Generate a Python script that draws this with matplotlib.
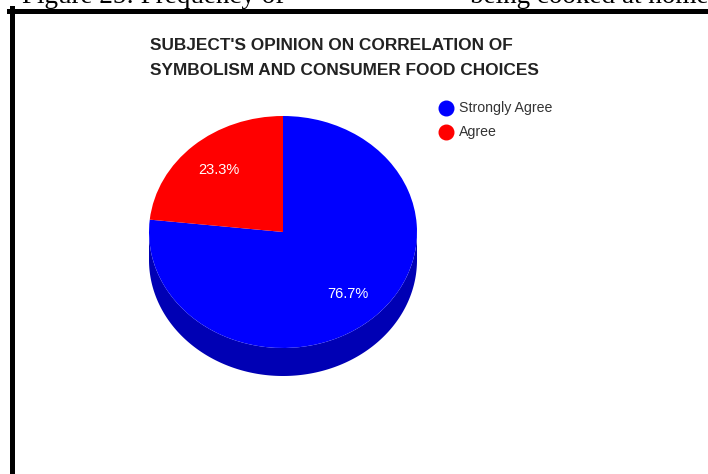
import numpy as np
import matplotlib.pyplot as plt
from matplotlib.lines import Line2D

# data
labels = ['Strongly Agree', 'Agree']
values = [76.7, 23.3]
colors = ['#0000ff', '#ff0000']
side_color = '#0000b4'

W, H = 708, 474
fig = plt.figure(figsize=(W / 100, H / 100), dpi=100)
fig.patch.set_facecolor('white')

def fx(px):
    return px / W

def fy(py):
    return 1 - py / H

# document frame + cut-off caption above it
fig.add_artist(Line2D([fx(11.5), fx(11.5)], [fy(8), fy(H)], color='black', lw=3.6, transform=fig.transFigure))
fig.add_artist(Line2D([fx(9), fx(W)], [fy(10.5), fy(10.5)], color='black', lw=3.6, transform=fig.transFigure))
fig.text(fx(22), fy(3), 'Figure 25: Frequency of', family='Liberation Serif', fontsize=19.5, va='baseline')
fig.text(fx(470), fy(3), 'being cooked at home', family='Liberation Serif', fontsize=19.5, va='baseline')

# title
fig.text(fx(150), fy(58), "SUBJECT'S OPINION ON CORRELATION OF\nSYMBOLISM AND CONSUMER FOOD CHOICES",
         family='Liberation Sans', fontsize=12.4, fontweight='bold', color='#222222',
         va='center', ha='left', linespacing=1.8)

# pie geometry (pixels): top ellipse spans x 149-417, y 116-348, side depth 28
left, right, top, bottom = 149, 417, 116, 348
depth_px = 28
ry_px = (bottom - top) / 2
depth = depth_px / ry_px

ax = fig.add_axes([fx(left), fy(bottom + depth_px), (right - left) / W, (bottom + depth_px - top) / H])
ax.axis('off')

# extruded side (lower half of the ellipse)
t = np.linspace(np.pi, 2 * np.pi, 200)
xs = np.concatenate([np.cos(t), np.cos(t[::-1])])
ys = np.concatenate([np.sin(t), np.sin(t[::-1]) - depth])
ax.fill(xs, ys, color=side_color, lw=0)

wedges, texts, autotexts = ax.pie(values, colors=colors, startangle=90, counterclock=False,
                                  autopct='%1.1f%%', pctdistance=0.72,
                                  wedgeprops=dict(linewidth=0),
                                  textprops=dict(color='white', family='Liberation Sans', fontsize=10.5))
ax.set_aspect('auto')
ax.set_xlim(-1, 1)
ax.set_ylim(-1 - depth, 1)

# legend
for i, lab in enumerate(labels):
    y = 108 + i * 24
    fig.add_artist(Line2D([fx(446)], [fy(y)], marker='o', markersize=10.5, color=colors[i], lw=0,
                          transform=fig.transFigure))
    fig.text(fx(459), fy(y), lab, family='Liberation Sans', fontsize=10.2, color='#333333', va='center')

fig.savefig('out.png', dpi=100)
